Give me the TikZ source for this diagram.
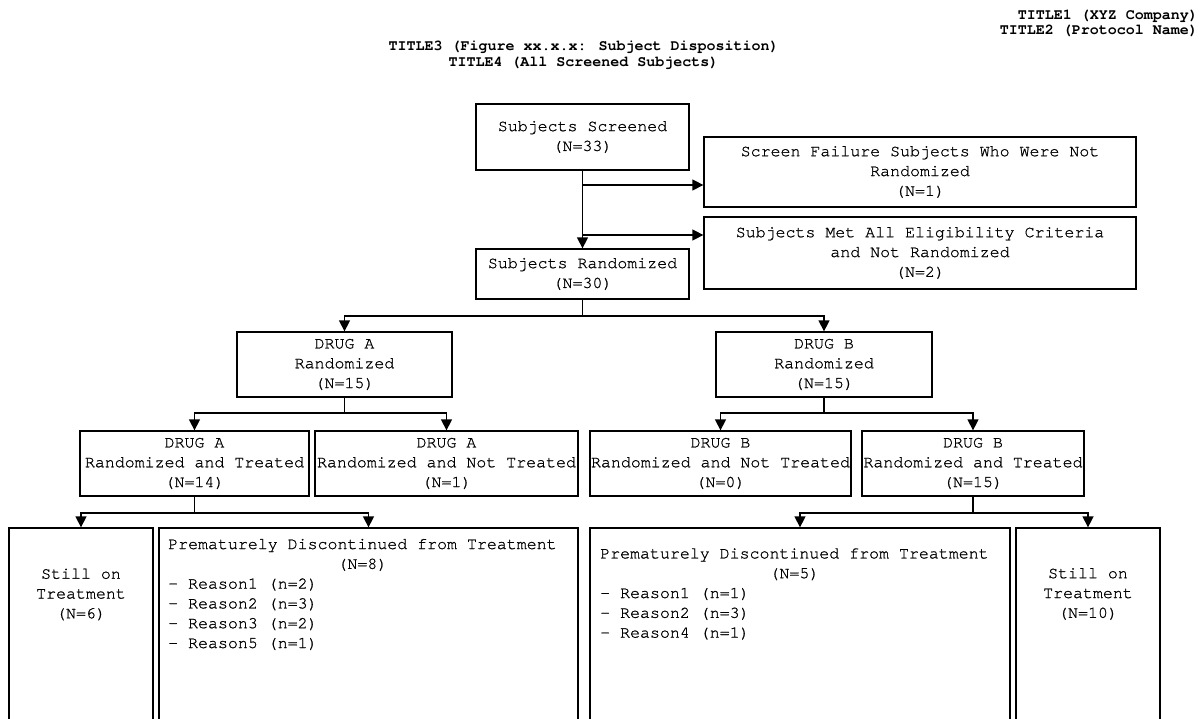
\documentclass[tikz,border=0pt]{standalone}
\usepackage{fontspec}
\newfontfamily\cursorfont[FakeBold=0.9]{TeX Gyre Cursor}
\newfontfamily\cursorbold{TeX Gyre Cursor Bold}
\usetikzlibrary{arrows.meta}
\newcommand\boxfont{\cursorfont\fontsize{16.6}{19.8}\selectfont}
\newcommand\headfont{\cursorbold\fontsize{15}{15.5}\selectfont}
\begin{document}
\begin{tikzpicture}[x=1pt,y=-1pt,
  box/.style={draw, line width=1.3pt, inner sep=0pt, align=center, font=\boxfont},
  txt/.style={inner sep=0pt, font=\boxfont},
  link/.style={line width=1.4pt},
  arr/.style={line width=1.4pt, -{Triangle[length=11pt,width=11pt]}}]
\useasboundingbox (0,0) rectangle (1201,719);
\clip (0,0) rectangle (1201,719);

% titles
\node[anchor=east, align=right, inner sep=0pt, font=\headfont] (t12) at (1198,23.5)
  {TITLE1 (XYZ Company)\\TITLE2 (Protocol Name)};
\node[align=center, inner sep=0pt, font=\headfont] (t34) at (583.5,55)
  {TITLE3 (Figure xx.x.x: Subject Disposition)\\TITLE4 (All Screened Subjects)};

% screening
\node[box, minimum width=213, minimum height=66] (scr) at (582.5,137)
  {Subjects Screened\\(N=33)};
\node[box, minimum width=432, minimum height=70] (fail) at (920,172)
  {Screen Failure Subjects Who Were Not\\Randomized\\(N=1)};
\node[box, minimum width=432, minimum height=72] (elig) at (920,253)
  {Subjects Met All Eligibility Criteria\\and Not Randomized\\(N=2)};
\node[box, minimum width=213, minimum height=50] (rand) at (582.5,274)
  {Subjects Randomized\\(N=30)};

% arms
\node[box, minimum width=215, minimum height=65] (drA) at (344.5,364.5)
  {DRUG A\\Randomized\\(N=15)};
\node[box, minimum width=216, minimum height=65] (drB) at (824,364.5)
  {DRUG B\\Randomized\\(N=15)};

% treated / not treated
\node[box, minimum width=229, minimum height=65] (aT) at (194.5,463.5)
  {DRUG A\\Randomized and Treated\\(N=14)};
\node[box, minimum width=263, minimum height=65] (aN) at (446.5,463.5)
  {DRUG A\\Randomized and Not Treated\\(N=1)};
\node[box, minimum width=261, minimum height=65] (bN) at (720.5,463.5)
  {DRUG B\\Randomized and Not Treated\\(N=0)};
\node[box, minimum width=222, minimum height=65] (bT) at (973,463.5)
  {DRUG B\\Randomized and Treated\\(N=15)};

% outcome boxes
\node[box, minimum width=144, minimum height=212] (aS) at (81,634) {};
\node[box, minimum width=419, minimum height=212] (aD) at (368.5,634) {};
\node[box, minimum width=420, minimum height=212] (bD) at (800,634) {};
\node[box, minimum width=144, minimum height=212] (bS) at (1088,634) {};

\node[txt, align=center] (aStxt) at (81,594.5) {Still on\\Treatment\\(N=6)};
\node[txt, align=left, anchor=west] (aDtxt) at (168,594.5)
  {Prematurely Discontinued from Treatment\\\makebox[23.4em][c]{(N=8)}\\- Reason1 (n=2)\\- Reason2 (n=3)\\- Reason3 (n=2)\\- Reason5 (n=1)};
\node[txt, align=left, anchor=west] (bDtxt) at (600,594)
  {Prematurely Discontinued from Treatment\\\makebox[23.4em][c]{(N=5)}\\- Reason1 (n=1)\\- Reason2 (n=3)\\- Reason4 (n=1)};
\node[txt, align=center] (bStxt) at (1088,594) {Still on\\Treatment\\(N=10)};

% junction points
\coordinate (j1) at (582.5,185);
\coordinate (j2) at (582.5,235);
\coordinate (s1) at (582.5,316);
\coordinate (s2) at (344.5,413);
\coordinate (s3) at (824,413);
\coordinate (s4) at (194.5,513);
\coordinate (s5) at (973,513);

% connectors
\draw[arr] (scr.south) -- (rand.north);
\draw[arr] (j1) -- (j1 -| fail.west);
\draw[arr] (j2) -- (j2 -| elig.west);

\draw[link] (rand.south) -- (s1);
\draw[arr] (s1) -| (drA.north);
\draw[arr] (s1) -| (drB.north);

\draw[link] (drA.south) -- (s2);
\draw[arr] (s2) -| (aT.north);
\draw[arr] (s2) -| (aN.north);

\draw[link] (drB.south) -- (s3);
\draw[arr] (s3) -| (bN.north);
\draw[arr] (s3) -| (bT.north);

\draw[link] (aT.south) -- (s4);
\draw[arr] (s4) -| (aS.north);
\draw[arr] (s4) -| (aD.north);

\draw[link] (bT.south) -- (s5);
\draw[arr] (s5) -| (bD.north);
\draw[arr] (s5) -| (bS.north);
\end{tikzpicture}
\end{document}
